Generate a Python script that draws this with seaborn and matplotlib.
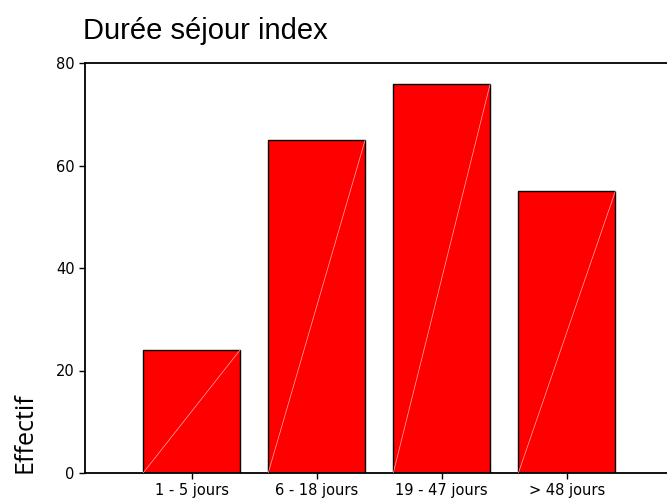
import pandas as pd
import matplotlib
matplotlib.use("Agg")
import matplotlib.pyplot as plt
import seaborn as sns

categories = ["1 - 5 jours", "6 - 18 jours", "19 - 47 jours", "> 48 jours"]
counts = [24, 65, 76, 55]
y_ticks = [0, 20, 40, 60, 80]

df = pd.DataFrame({"duree": categories, "effectif": counts})

sns.set_style("white")
plt.rcParams["font.family"] = ["Liberation Sans", "DejaVu Sans"]
plt.rcParams["text.color"] = "black"
plt.rcParams["xtick.color"] = "black"
plt.rcParams["ytick.color"] = "black"

fig = plt.figure(figsize=(6.67, 5), dpi=100)
ax = fig.add_axes([0.1274, 0.054, 0.8823, 0.82])

sns.barplot(data=df, x="duree", y="effectif", color="#ff0000", saturation=1,
            width=0.775, edgecolor="black", linewidth=1, ax=ax)

# faint diagonal inside each bar, like the old SPSS export
for p in ax.patches:
    x0 = p.get_x()
    ax.plot([x0, x0 + p.get_width()], [0, p.get_height()],
            color="#ffb0b0", lw=0.5, zorder=3)

ax.set_xlim(-0.852, 3.852)
ax.set_ylim(0, 80)
ax.set_yticks(y_ticks)
ax.set_xlabel("")
ax.set_ylabel("Effectif", loc="bottom", fontsize=18, color="black",
              family=["Open Sans", "DejaVu Sans"])
ax.yaxis.set_label_coords(-0.08, 0)

for side in ["left", "bottom", "top", "right"]:
    ax.spines[side].set_visible(True)
    ax.spines[side].set_color("black")
    ax.spines[side].set_linewidth(1.3)

ax.tick_params(axis="both", which="major", direction="out", length=4, width=1,
               color="black", labelcolor="black", labelsize=10.5, pad=3.5,
               left=True, bottom=True)
for lab in ax.get_xticklabels() + ax.get_yticklabels():
    lab.set_family(["DejaVu Sans"])

ax.set_title("Durée séjour index", loc="left", fontsize=21, pad=17, x=-0.004,
             color="black")

fig.savefig("out.png", dpi=100)
